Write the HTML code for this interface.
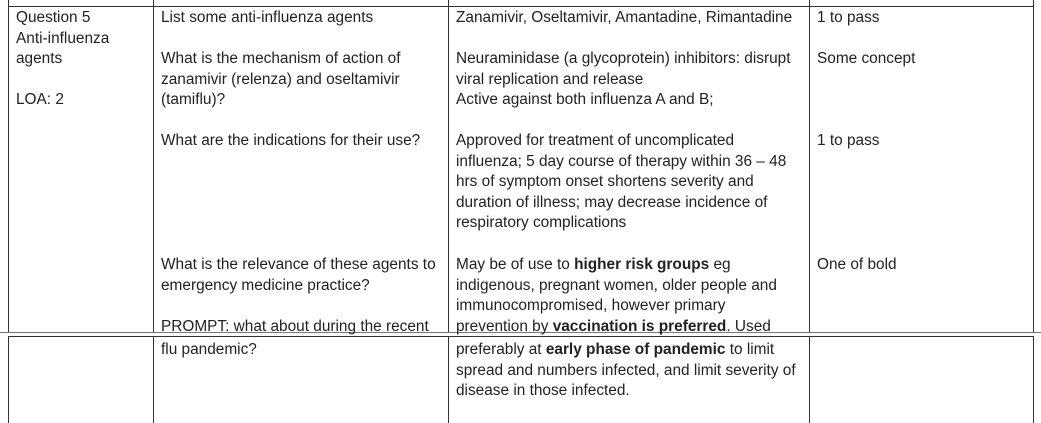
<!DOCTYPE html>
<html><head><meta charset="utf-8"><style>
body{margin:0;width:1041px;height:423px;background:#fff;overflow:hidden;position:relative;font-family:"Liberation Sans",Arial,sans-serif;font-size:15.4px;color:#222}
.l{position:absolute;background:#333}
.t{position:absolute;line-height:20.6px;white-space:nowrap}
b{font-weight:bold}
</style></head><body>
<div>
<div class="l" style="left:8px;top:6px;width:1026px;height:1px"></div>
<div class="l" style="left:8px;top:0;width:1px;height:332px"></div>
<div class="l" style="left:153px;top:0;width:1px;height:332px"></div>
<div class="l" style="left:448px;top:0;width:1px;height:332px"></div>
<div class="l" style="left:809px;top:0;width:1px;height:332px"></div>
<div class="l" style="left:1033px;top:0;width:1px;height:332px"></div>
<div class="l" style="left:0;top:332px;width:1041px;height:1px;background:#777"></div>
</div>
<div>
<div class="l" style="left:8px;top:336px;width:1026px;height:1px"></div>
<div class="l" style="left:8px;top:336px;width:1px;height:87px"></div>
<div class="l" style="left:153px;top:336px;width:1px;height:87px"></div>
<div class="l" style="left:448px;top:336px;width:1px;height:87px"></div>
<div class="l" style="left:809px;top:336px;width:1px;height:87px"></div>
<div class="l" style="left:1033px;top:336px;width:1px;height:87px"></div>
</div>
<div class="t" style="left:16px;top:8px">Question 5<br>Anti-influenza<br>agents<br><br>LOA: 2</div>
<div class="t" style="left:161px;top:8px">List some anti-influenza agents</div>
<div class="t" style="left:161px;top:49px">What is the mechanism of action of<br>zanamivir (relenza) and oseltamivir<br>(tamiflu)?</div>
<div class="t" style="left:161px;top:131px">What are the indications for their use?</div>
<div class="t" style="left:161px;top:255px">What is the relevance of these agents to<br>emergency medicine practice?<br><br>PROMPT: what about during the recent</div>
<div class="t" style="left:161px;top:340px">flu pandemic?</div>
<div class="t" style="left:456px;top:8px">Zanamivir, Oseltamivir, Amantadine, Rimantadine</div>
<div class="t" style="left:456px;top:49px">Neuraminidase (a glycoprotein) inhibitors: disrupt<br>viral replication and release<br>Active against both influenza A and B;</div>
<div class="t" style="left:456px;top:131px">Approved for treatment of uncomplicated<br>influenza; 5 day course of therapy within 36 – 48<br>hrs of symptom onset shortens severity and<br>duration of illness; may decrease incidence of<br>respiratory complications</div>
<div class="t" style="left:456px;top:255px">May be of use to <b>higher risk groups</b> eg<br>indigenous, pregnant women, older people and<br>immunocompromised, however primary<br>prevention by <b>vaccination is preferred</b>. Used</div>
<div class="t" style="left:456px;top:340px">preferably at <b>early phase of pandemic</b> to limit<br>spread and numbers infected, and limit severity of<br>disease in those infected.</div>
<div class="t" style="left:817px;top:8px">1 to pass</div>
<div class="t" style="left:817px;top:49px">Some concept</div>
<div class="t" style="left:817px;top:131px">1 to pass</div>
<div class="t" style="left:817px;top:255px">One of bold</div>
</body></html>
